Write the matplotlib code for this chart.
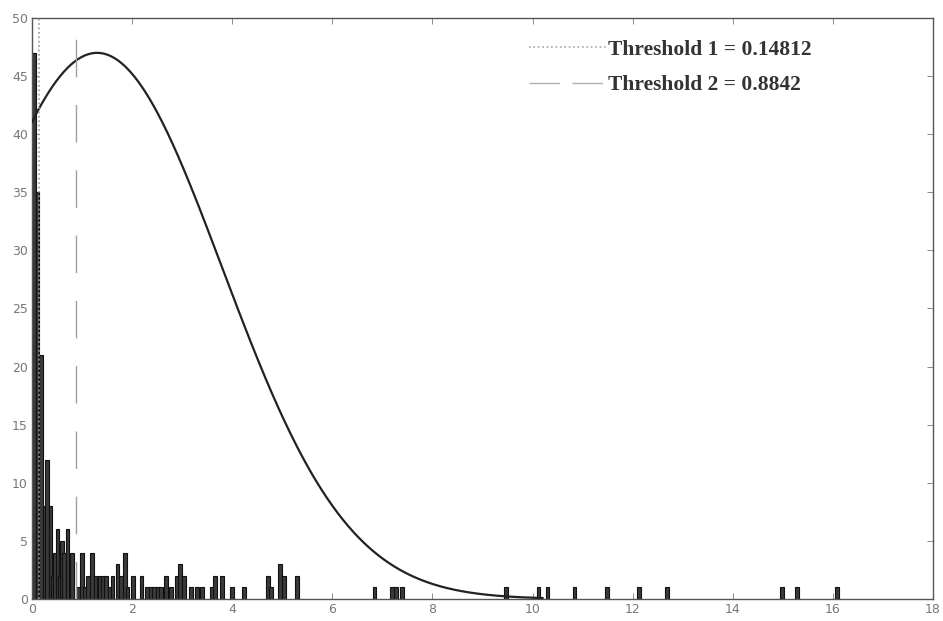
import numpy as np
import matplotlib
matplotlib.use("Agg")
import matplotlib.pyplot as plt
from matplotlib.lines import Line2D

# ---- data ----
bar_centers = [0.04, 0.11, 0.18, 0.25, 0.30, 0.37, 0.42, 0.46, 0.51, 0.55,
               0.60, 0.64, 0.71, 0.80, 0.92, 1.00, 1.06, 1.12, 1.20, 1.27,
               1.35, 1.42, 1.48, 1.55, 1.61, 1.71, 1.78, 1.86, 1.91, 2.02,
               2.19, 2.30, 2.37, 2.44, 2.51, 2.58, 2.68, 2.77, 2.90, 2.96,
               3.04, 3.18, 3.30, 3.40, 3.60, 3.66, 3.79, 4.00, 4.24, 4.72,
               4.78, 4.96, 5.04, 5.30, 6.84, 7.19, 7.27, 7.39, 9.47, 10.12,
               10.30, 10.84, 11.48, 12.12, 12.68, 14.98, 15.28, 16.08]
bar_counts = [47, 35, 21, 8, 12, 8, 2, 4, 6, 2,
              5, 4, 6, 4, 1, 4, 1, 2, 4, 2,
              2, 2, 2, 1, 2, 3, 2, 4, 1, 2,
              2, 1, 1, 1, 1, 1, 2, 1, 2, 3,
              2, 1, 1, 1, 1, 2, 2, 1, 1, 2,
              1, 3, 2, 2, 1, 1, 1, 1, 1, 1,
              1, 1, 1, 1, 1, 1, 1, 1]

# fitted normal curve (read: peak ~47 at x~1.3, ~41 at x=0)
curve_peak = 47.0
curve_mean = 1.3
curve_sigma = 2.5
curve_xmax = 10.2

threshold_1 = 0.14812
threshold_2 = 0.8842
legend_labels = ["Threshold 1 = 0.14812", "Threshold 2 = 0.8842"]

x_ticks = [0, 2, 4, 6, 8, 10, 12, 14, 16, 18]
y_ticks = [0, 5, 10, 15, 20, 25, 30, 35, 40, 45, 50]

# ---- figure ----
W, H = 943, 621
fig = plt.figure(figsize=(W / 100, H / 100), dpi=100)
left, right, top, bottom = 32, 933, 18, 599
ax = fig.add_axes([left / W, 1 - bottom / H, (right - left) / W, (bottom - top) / H])

ax.bar(bar_centers, bar_counts, width=0.075, color="#3a3a3a",
       edgecolor="#111111", linewidth=0.8, zorder=2)

xc = np.linspace(0, curve_xmax, 400)
yc = curve_peak * np.exp(-(xc - curve_mean) ** 2 / (2 * curve_sigma ** 2))
ax.plot(xc, yc, color="#222222", linewidth=1.6, zorder=3)

ax.axvline(threshold_1, color="#9a9a9a", linestyle=":", linewidth=1.2, zorder=4)
ax.axvline(threshold_2, color="#a0a0a0", linestyle=(0, (27, 20)), linewidth=1.0, zorder=4)

ax.set_xlim(0, 18)
ax.set_ylim(0, 50)
ax.set_xticks(x_ticks)
ax.set_yticks(y_ticks)
ax.tick_params(direction="in", top=True, right=True, length=4, width=0.6,
               color="#777777", labelsize=9, labelcolor="#777777")
ax.tick_params(axis="x", pad=3)
ax.tick_params(axis="y", pad=3)
for s in ax.spines.values():
    s.set_color("#555555")
    s.set_linewidth(1.0)

handles = [Line2D([], [], color="#a8a8a8", linestyle=":", linewidth=1.2),
           Line2D([], [], color="#b0b0b0", linestyle=(0, (22, 9)), linewidth=1.0)]
leg = ax.legend(handles, legend_labels, loc="upper left",
                bbox_to_anchor=(529 / W, 1 - 39.5 / H), bbox_transform=fig.transFigure,
                frameon=False, handlelength=3.58, handletextpad=0.08, labelspacing=0.72,
                borderaxespad=0, borderpad=0,
                prop={"family": "Liberation Serif", "size": 15.5, "weight": "bold"})
for t in leg.get_texts():
    t.set_color("#333333")

fig.savefig("out.png", dpi=100, facecolor="white")
